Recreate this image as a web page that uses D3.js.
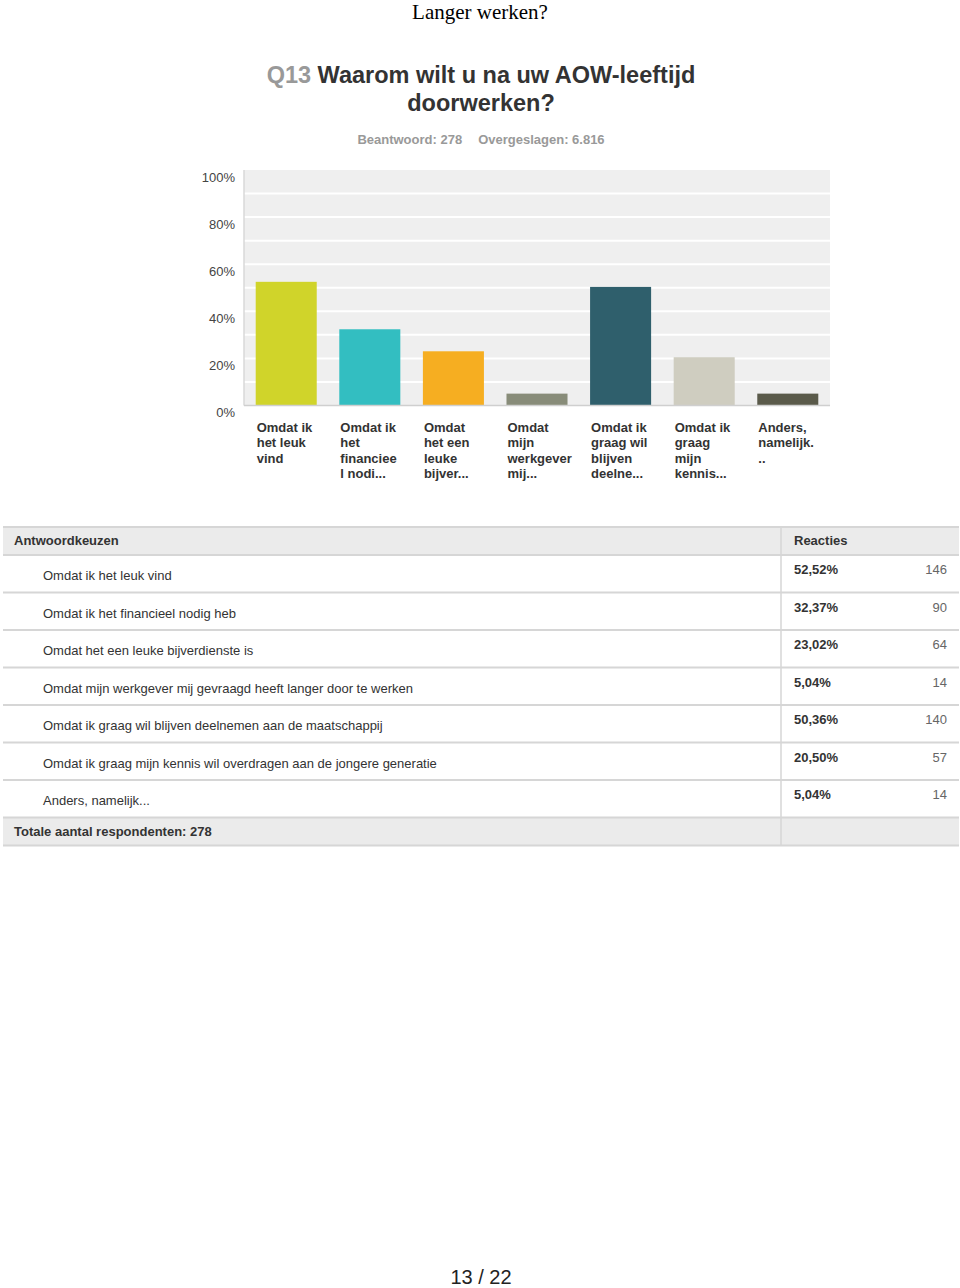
<!DOCTYPE html>
<html>
<head>
<meta charset="utf-8">
<script src="https://cdn.jsdelivr.net/npm/d3@7"></script>
<style>
html,body{margin:0;padding:0;background:#fff;}
svg{display:block;}
</style>
</head>
<body>
<script>
// ---- data ----
const categories = [
  "Omdat ik het leuk vind",
  "Omdat ik het financieel nodig heb",
  "Omdat het een leuke bijverdienste is",
  "Omdat mijn werkgever mij gevraagd heeft langer door te werken",
  "Omdat ik graag wil blijven deelnemen aan de maatschappij",
  "Omdat ik graag mijn kennis wil overdragen aan de jongere generatie",
  "Anders, namelijk..."
];
const axisLabels = [
  ["Omdat ik","het leuk","vind"],
  ["Omdat ik","het","financiee","l nodi..."],
  ["Omdat","het een","leuke","bijver..."],
  ["Omdat","mijn","werkgever","mij..."],
  ["Omdat ik","graag wil","blijven","deelne..."],
  ["Omdat ik","graag","mijn","kennis..."],
  ["Anders,","namelijk.",".."]
];
const percents = [52.52, 32.37, 23.02, 5.04, 50.36, 20.50, 5.04];
const percentLabels = ["52,52%","32,37%","23,02%","5,04%","50,36%","20,50%","5,04%"];
const counts = [146, 90, 64, 14, 140, 57, 14];
const colors = ["#d0d42a","#33bec1","#f6ae21","#888c79","#2f5f6c","#cfcdc0","#5a5a4a"];
const yTicks = [0, 20, 40, 60, 80, 100];
const gridValues = [10, 20, 30, 40, 50, 60, 70, 80, 90];

const W = 960, H = 1288;
const font = "'Liberation Sans', Arial, Helvetica, sans-serif";
const svg = d3.select("body").append("svg").attr("width", W).attr("height", H)
  .style("font-family", font);

// page header
svg.append("text").attr("x", 480).attr("y", 19).attr("text-anchor", "middle")
  .style("font-family", "'Liberation Serif', 'Times New Roman', serif")
  .style("font-size", "21px").attr("fill", "#000").text("Langer werken?");

const t1 = svg.append("text").attr("x", 481).attr("y", 83).attr("text-anchor", "middle")
  .style("font-size", "23.5px").style("font-weight", "bold");
t1.append("tspan").attr("fill", "#999").text("Q13 ");
t1.append("tspan").attr("fill", "#333").text("Waarom wilt u na uw AOW-leeftijd");
svg.append("text").attr("x", 481).attr("y", 111).attr("text-anchor", "middle")
  .style("font-size", "23.5px").style("font-weight", "bold").attr("fill", "#333").text("doorwerken?");

const t2 = svg.append("text").attr("x", 481).attr("y", 144).attr("text-anchor", "middle")
  .style("font-size", "13px").style("font-weight", "bold").attr("fill", "#999");
t2.append("tspan").text("Beantwoord: 278");
t2.append("tspan").attr("dx", 16).text("Overgeslagen: 6.816");

// chart
const plot = {left: 244, right: 830, top: 170, bottom: 405.5};
const x = d3.scaleBand().domain(d3.range(categories.length))
  .range([plot.left, plot.right]).paddingInner(0.27).paddingOuter(0.14);
const y = d3.scaleLinear().domain([0, 100]).range([plot.bottom, plot.top]);

svg.append("rect").attr("x", plot.left).attr("y", plot.top)
  .attr("width", plot.right - plot.left).attr("height", plot.bottom - plot.top)
  .attr("fill", "#efefef");

svg.append("g").selectAll("line").data(gridValues).join("line")
  .attr("x1", plot.left).attr("x2", plot.right)
  .attr("y1", d => y(d)).attr("y2", d => y(d))
  .attr("stroke", "#fff").attr("stroke-width", 2);

// left axis line
svg.append("line").attr("x1", plot.left).attr("x2", plot.left)
  .attr("y1", plot.top).attr("y2", plot.bottom)
  .attr("stroke", "#d8d8d8").attr("stroke-width", 1.5);

const yAxis = d3.axisLeft(y).tickValues(yTicks).tickSize(0).tickPadding(10)
  .tickFormat(d => d + "%");
const gy = svg.append("g").attr("transform", `translate(${plot.left},0)`).call(yAxis);
gy.select(".domain").remove();
gy.selectAll("text").style("font-size", "13px").style("font-family", font)
  .attr("fill", "#444").attr("dy", "0.85em").attr("x", -9);

svg.append("g").selectAll("rect").data(percents).join("rect")
  .attr("x", (d, i) => x(i)).attr("width", x.bandwidth())
  .attr("y", d => y(d)).attr("height", d => y(0) - y(d))
  .attr("fill", (d, i) => colors[i]);

// baseline
svg.append("line").attr("x1", plot.left).attr("x2", plot.right)
  .attr("y1", plot.bottom).attr("y2", plot.bottom)
  .attr("stroke", "#cfcfcf").attr("stroke-width", 1.5);

// x labels
const xl = svg.append("g").selectAll("text").data(axisLabels).join("text")
  .attr("x", (d, i) => x(i) + 1).attr("y", 432)
  .style("font-size", "13px").style("font-weight", "bold").attr("fill", "#333");
xl.selectAll("tspan").data(d => d).join("tspan")
  .attr("x", function() { return d3.select(this.parentNode).attr("x"); })
  .attr("dy", (d, i) => i === 0 ? 0 : 15.4).text(d => d);

// table
const tb = {left: 3, right: 959, div: 781, headTop: 527, headH: 28, rowH: 37.5};
const rowsTop = tb.headTop + tb.headH;
const footTop = rowsTop + tb.rowH * categories.length;

svg.append("rect").attr("x", tb.left).attr("y", tb.headTop)
  .attr("width", tb.right - tb.left).attr("height", tb.headH).attr("fill", "#ebebeb");
svg.append("rect").attr("x", tb.left).attr("y", footTop)
  .attr("width", tb.right - tb.left).attr("height", tb.headH).attr("fill", "#ebebeb");

const lineYs = [tb.headTop].concat(d3.range(categories.length + 1).map(i => rowsTop + i * tb.rowH))
  .concat([footTop + tb.headH]);
svg.append("g").selectAll("line").data(lineYs).join("line")
  .attr("x1", tb.left).attr("x2", tb.right).attr("y1", d => d).attr("y2", d => d)
  .attr("stroke", "#d6d6d6").attr("stroke-width", 2);
svg.append("line").attr("x1", tb.div).attr("x2", tb.div)
  .attr("y1", tb.headTop).attr("y2", footTop + tb.headH)
  .attr("stroke", "#d6d6d6").attr("stroke-width", 1.5);

svg.append("text").attr("x", 14).attr("y", tb.headTop + 18)
  .style("font-size", "13px").style("font-weight", "bold").attr("fill", "#333").text("Antwoordkeuzen");
svg.append("text").attr("x", 794).attr("y", tb.headTop + 18)
  .style("font-size", "13px").style("font-weight", "bold").attr("fill", "#333").text("Reacties");

const rows = svg.append("g").selectAll("g").data(categories).join("g")
  .attr("transform", (d, i) => `translate(0,${rowsTop + i * tb.rowH})`);
rows.append("text").attr("x", 43).attr("y", 25)
  .style("font-size", "13px").attr("fill", "#333").text(d => d);
rows.append("text").attr("x", 794).attr("y", 19)
  .style("font-size", "13px").style("font-weight", "bold").attr("fill", "#333")
  .text((d, i) => percentLabels[i]);
rows.append("text").attr("x", 947).attr("y", 19).attr("text-anchor", "end")
  .style("font-size", "13px").attr("fill", "#666").text((d, i) => counts[i]);

svg.append("text").attr("x", 14).attr("y", footTop + 18)
  .style("font-size", "13px").style("font-weight", "bold").attr("fill", "#333")
  .text("Totale aantal respondenten: " + d3.sum([278]));

// page number
svg.append("text").attr("x", 481).attr("y", 1284).attr("text-anchor", "middle")
  .style("font-size", "20px").attr("fill", "#222").text("13 / 22");
</script>
</body>
</html>
